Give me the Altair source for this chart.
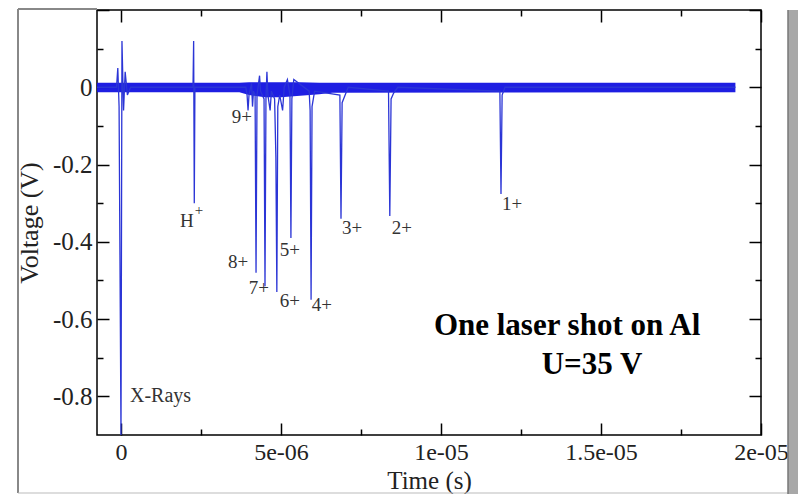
import altair as alt
import pandas as pd

# ---------------- data ----------------
# Noise band of the baseline (time in s, lower/upper voltage in V)
band_t = [-0.75e-6, 3.7e-6, 4.0e-6, 4.5e-6, 5.0e-6, 5.6e-6, 6.2e-6, 6.6e-6, 19.2e-6]
band_lo = [-0.013, -0.013, -0.020, -0.026, -0.026, -0.022, -0.018, -0.014, -0.013]
band_hi = [0.012, 0.012, 0.013, 0.013, 0.013, 0.013, 0.012, 0.012, 0.012]

# Spike trace (time in s, voltage in V)
trace_t = [-0.75e-6, -0.14e-6, -0.10e-6, -0.06e-6, 0.0, 0.03e-6, 0.08e-6, 0.13e-6, 0.20e-6, 0.30e-6,
           2.25e-6, 2.27e-6, 2.29e-6, 2.31e-6,
           3.90e-6, 3.94e-6, 3.97e-6, 4.00e-6, 4.08e-6, 4.11e-6, 4.14e-6,
           4.19e-6, 4.22e-6, 4.25e-6, 4.33e-6, 4.36e-6,
           4.47e-6, 4.50e-6, 4.53e-6, 4.56e-6, 4.59e-6, 4.66e-6, 4.70e-6,
           4.80e-6, 4.84e-6, 4.87e-6, 4.90e-6, 4.96e-6, 5.05e-6, 5.10e-6,
           5.20e-6, 5.28e-6, 5.31e-6, 5.34e-6, 5.40e-6,
           5.88e-6, 5.91e-6, 5.94e-6, 5.97e-6, 6.05e-6,
           6.84e-6, 6.875e-6, 6.91e-6, 6.98e-6, 7.10e-6,
           8.36e-6, 8.40e-6, 8.44e-6, 8.52e-6, 8.65e-6,
           11.84e-6, 11.875e-6, 11.91e-6, 12.0e-6,
           19.2e-6]
trace_v = [0.0, 0.0, 0.05, -0.05, -0.90, 0.12, -0.06, 0.04, -0.02, 0.0,
           0.0, 0.12, -0.30, 0.0,
           0.0, -0.02, -0.06, -0.02, 0.01, -0.05, -0.01,
           -0.02, -0.48, -0.02, 0.03, -0.01,
           -0.03, -0.515, -0.03, 0.04, -0.02, -0.06, -0.01,
           -0.03, -0.18, -0.53, -0.05, -0.02, -0.06, 0.0,
           0.02, -0.02, -0.39, -0.03, 0.02,
           -0.01, -0.06, -0.55, -0.05, -0.01,
           -0.02, -0.34, -0.04, -0.025, 0.0,
           -0.01, -0.333, -0.03, -0.015, 0.0,
           -0.01, -0.276, -0.02, 0.0,
           0.0]

# Peak labels
lab_text = ["9+", "8+", "7+", "6+", "5+", "4+", "3+", "2+", "1+", "H"]
lab_t = [3.78e-6, 3.66e-6, 4.31e-6, 5.28e-6, 5.28e-6, 6.28e-6, 7.22e-6, 8.78e-6, 12.22e-6, 2.06e-6]
lab_v = [-0.078, -0.453, -0.519, -0.552, -0.42, -0.563, -0.365, -0.365, -0.302, -0.347]

sup_text = ["+"]
sup_t = [2.44e-6]
sup_v = [-0.318]

xr_text = ["X-Rays"]
xr_t = [0.28e-6]
xr_v = [-0.80]

note_text = ["One laser shot on Al", "U=35 V"]
note_t = [13.94e-6, 14.72e-6]
note_v = [-0.618, -0.719]

x_major = [0, 5e-6, 1e-5, 1.5e-5, 2e-5]
x_minor = [2.5e-6, 7.5e-6, 1.25e-5, 1.75e-5]
y_major = [0.2, 0, -0.2, -0.4, -0.6, -0.8]
y_minor = [0.1, -0.1, -0.3, -0.5, -0.7]

# ---------------- chart ----------------
SERIF = "Liberation Serif"
W, H = 664, 425

band_df = pd.DataFrame({"t": band_t, "lo": band_lo, "hi": band_hi})
trace_df = pd.DataFrame({"t": trace_t, "v": trace_v, "i": range(len(trace_t))})
lab_df = pd.DataFrame({"t": lab_t, "v": lab_v, "txt": lab_text})
sup_df = pd.DataFrame({"t": sup_t, "v": sup_v, "txt": sup_text})
xr_df = pd.DataFrame({"t": xr_t, "v": xr_v, "txt": xr_text})
note_df = pd.DataFrame({"t": note_t, "v": note_v, "txt": note_text})

xs = alt.Scale(domain=[-7.5e-7, 2e-5], nice=False, zero=False)
ys = alt.Scale(domain=[-0.9, 0.2], nice=False, zero=False)

x_lab_expr = ("round(datum.value*1e7) == 0 ? '0' : round(datum.value*1e7) == 50 ? '5e-06' : "
              "round(datum.value*1e7) == 100 ? '1e-05' : round(datum.value*1e7) == 150 ? '1.5e-05' : '2e-05'")
y_lab_expr = ("datum.value > 0.1 ? '' : abs(datum.value) < 1e-9 ? '0' : "
              "(datum.value < 0 ? '-' : '') + format(abs(datum.value), '.1f')")

common = dict(domain=False, grid=False, tickColor="black", tickWidth=1.5)

def ax(orient, values, size, labels=False, **kw):
    return alt.Axis(orient=orient, values=values, tickSize=size, offset=-size,
                    labels=labels, **common, **kw)

x_bottom_major = ax("bottom", x_major, 12, labels=True, title="Time (s)",
                    labelExpr=x_lab_expr, labelFont=SERIF, labelFontSize=24,
                    labelColor="#222", labelPadding=5, labelFlush=False,
                    titleFont=SERIF, titleFontSize=25, titleFontWeight="normal",
                    titleColor="#222", titlePadding=4)
y_left_major = ax("left", y_major, 12, labels=True, title="Voltage (V)",
                  labelExpr=y_lab_expr, labelFont=SERIF, labelFontSize=25,
                  labelColor="#222", labelPadding=5, labelFlush=False,
                  labelOverlap=False,
                  titleFont=SERIF, titleFontSize=26, titleFontWeight="normal",
                  titleColor="#222", titlePadding=10)
x_bottom_minor = ax("bottom", x_minor, 6, title=None)
y_left_minor = ax("left", y_minor, 6, title=None)
x_top_major = ax("top", x_major, 12, title=None)
y_right_major = ax("right", y_major, 12, title=None)
x_top_minor = ax("top", x_minor, 6, title=None)
y_right_minor = ax("right", y_minor, 6, title=None)

band = alt.Chart(band_df).mark_area(color="#1212e0", opacity=0.95, interpolate="linear").encode(
    x=alt.X("t:Q", scale=xs, axis=x_bottom_major),
    y=alt.Y("lo:Q", scale=ys, axis=y_left_major),
    y2="hi:Q",
)

trace = alt.Chart(trace_df).mark_line(color="#2b35d6", strokeWidth=1.3).encode(
    x=alt.X("t:Q", scale=xs, axis=x_bottom_minor),
    y=alt.Y("v:Q", scale=ys, axis=y_left_minor),
    order="i:Q",
)

labels = alt.Chart(lab_df).mark_text(font=SERIF, fontSize=19, color="#333",
                                     align="center", baseline="middle").encode(
    x=alt.X("t:Q", scale=xs, axis=x_top_major),
    y=alt.Y("v:Q", scale=ys, axis=y_right_major),
    text="txt:N",
)

sup = alt.Chart(sup_df).mark_text(font=SERIF, fontSize=15, color="#333",
                                  align="center", baseline="middle").encode(
    x=alt.X("t:Q", scale=xs, axis=x_top_minor),
    y=alt.Y("v:Q", scale=ys, axis=y_right_minor),
    text="txt:N",
)

xr = alt.Chart(xr_df).mark_text(font=SERIF, fontSize=20, color="#333",
                                align="left", baseline="middle").encode(
    x=alt.X("t:Q", scale=xs, axis=None),
    y=alt.Y("v:Q", scale=ys, axis=None),
    text="txt:N",
)

notes = alt.Chart(note_df).mark_text(font=SERIF, fontSize=31, fontWeight="bold", color="black",
                                     align="center", baseline="middle").encode(
    x=alt.X("t:Q", scale=xs, axis=None),
    y=alt.Y("v:Q", scale=ys, axis=None),
    text="txt:N",
)

# decorative outer picture frame
frame_left = alt.Chart().mark_rule(color="#888", strokeWidth=2).encode(
    x=alt.value(-79), y=alt.value(-1), y2=alt.value(H + 58))
frame_top = alt.Chart().mark_rule(color="#888", strokeWidth=2).encode(
    x=alt.value(-79), x2=alt.value(0), y=alt.value(-1))
frame_bottom = alt.Chart().mark_rule(color="#bbb", strokeWidth=1).encode(
    x=alt.value(-79), x2=alt.value(692), y=alt.value(H + 58))
shadow = alt.Chart().mark_rect(color="#a8a8a8").encode(
    x=alt.value(691), x2=alt.value(702), y=alt.value(0), y2=alt.value(H + 60))
shadow_edge = alt.Chart().mark_rule(color="#777", strokeWidth=1.5).encode(
    x=alt.value(691), y=alt.value(0), y2=alt.value(H + 60))

chart = alt.layer(
    band, trace, labels, sup, xr, notes,
    frame_left, frame_top, frame_bottom, shadow, shadow_edge,
).resolve_axis(x="independent", y="independent").properties(
    width=W, height=H,
    autosize=alt.AutoSizeParams(type="none"),
    padding={"left": 97, "top": 10, "right": 798 - 97 - W, "bottom": 494 - 10 - H},
    background="white",
).configure_view(stroke="black", strokeWidth=1.5)

chart.save("out.html", embed_options={"renderer": "svg", "actions": False})
